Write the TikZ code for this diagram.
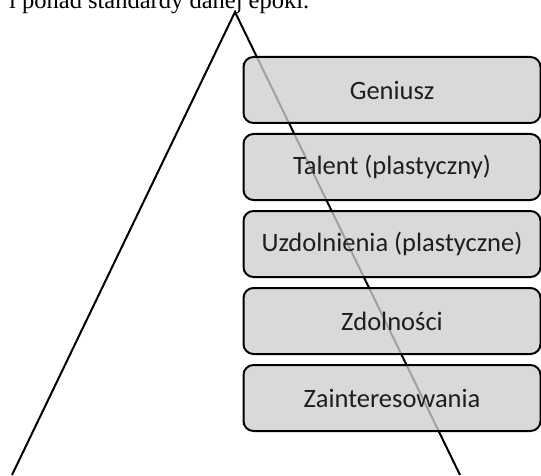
\documentclass[tikz,border=0pt]{standalone}
\usepackage{fontspec}
\setmainfont{Liberation Serif}
\newfontfamily\boxfont{Carlito}
\usetikzlibrary{positioning}
\definecolor{levelgray}{RGB}{206,206,206}
\definecolor{leveltext}{RGB}{30,30,30}

\begin{document}
\begin{tikzpicture}[x=1pt, y=1pt,
            level/.style={rectangle, rounded corners=10pt, draw, line width=2pt,
                fill=levelgray, fill opacity=0.78, text opacity=1, text=leveltext,
                minimum width=297pt, minimum height=66pt, inner sep=0pt,
                font=\boxfont\fontsize{26.5}{31}\selectfont},
            edge/.style={line width=2pt}
        ]
        
        % Frame
        \useasboundingbox (0,0) rectangle (541,475);
        \clip (0,0) rectangle (541,475);
        
        % Text above (cut off)
        \node[anchor=base west, inner sep=0pt, font=\fontsize{24.5}{29}\selectfont] (caption) at (9,466) {i ponad standardy danej epoki.};
        
        % Pyramid
        \coordinate (apex) at (235,463);
        \coordinate (left) at (12,0);
        \coordinate (right) at (460,0);
        \draw[edge] (left) -- (apex) -- (right);
        
        % Levels
        \node[level] (genius) at (392,385) {Geniusz};
        \node[level] (talent) [below=9pt of genius] {Talent (plastyczny)};
        \node[level] (gift) [below=9pt of talent] {Uzdolnienia (plastyczne)};
        \node[level] (ability) [below=9pt of gift] {Zdolności};
        \node[level] (interest) [below=9pt of ability] {Zainteresowania};
        
        \end{tikzpicture}
\end{document}
